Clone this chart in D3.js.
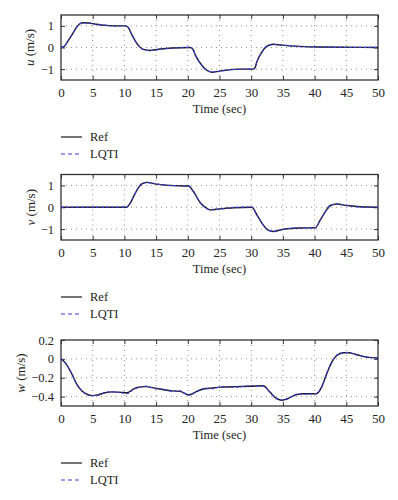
<!DOCTYPE html>
<html><head><meta charset="utf-8">
<script src="https://cdn.jsdelivr.net/npm/d3@7"></script>
<style>body{margin:0;background:#fff}svg{display:block}</style>
</head><body><svg id="c" width="398" height="500"></svg>
<script>
const xTicks = [0,5,10,15,20,25,30,35,40,45,50];
const seriesNames = ["Ref","LQTI"];

const uT   = [0,0.5,1,1.7,2.5,3,3.5,4.3,5.4,7,8.5,10.1,10.6,11.2,12.2,13,14,15.4,17.5,20.4,20.8,21.2,22.2,23,23.8,24.8,26,28,30.3,30.6,30.9,31.7,32.5,33.5,34.8,37.7,40.4,45,50];
const uRef = [0,0.05,0.25,0.57,0.95,1.1,1.14,1.13,1.08,1.02,1.0,1.0,0.93,0.57,0.1,-0.09,-0.14,-0.08,-0.02,0,-0.08,-0.35,-0.82,-1.05,-1.14,-1.1,-1.05,-1.0,-1.0,-0.93,-0.66,-0.2,0.06,0.15,0.11,0.05,0.02,0.01,0];
const uLq  = [0,0.04,0.26,0.58,0.94,1.1,1.13,1.14,1.07,1.03,0.99,1.01,0.92,0.58,0.09,-0.1,-0.13,-0.09,-0.03,0.01,-0.07,-0.36,-0.81,-1.06,-1.13,-1.11,-1.04,-1.01,-0.99,-0.94,-0.65,-0.21,0.07,0.14,0.12,0.04,0.03,0.0,0.01];

const vT   = [0,10.3,10.5,10.9,12,12.7,13.5,15.1,17.2,20.1,20.9,21.9,23,23.5,24.6,27.2,30.1,30.9,31.9,32.7,33.5,35.1,37.7,40.1,40.9,41.7,42.5,43.5,45.1,47.2,50];
const vRef = [0,0,0.03,0.18,0.8,1.06,1.14,1.06,1.0,0.97,0.72,0.23,-0.05,-0.12,-0.09,-0.02,0,-0.35,-0.82,-1.05,-1.11,-1.0,-0.95,-0.94,-0.58,-0.2,0.08,0.15,0.08,0.02,0];
const vLq  = [0,0.01,0.03,0.19,0.79,1.07,1.13,1.07,0.99,0.98,0.71,0.24,-0.06,-0.11,-0.1,-0.01,0.01,-0.36,-0.81,-1.06,-1.1,-1.01,-0.94,-0.95,-0.57,-0.21,0.09,0.14,0.09,0.01,0];

const wT   = [0,0.6,1.7,2.5,3.3,4.3,5,5.9,7,8,9.6,10.4,11.4,12.2,13.3,14.8,16.4,17.5,18.8,20.1,20.6,21.4,22.5,23.8,25.4,27.5,30,31.9,32.97,34,34.8,35.6,37.2,38.2,40.3,41.1,41.9,42.7,43.5,44.5,45.3,46.6,48.2,50];
const wRef = [0,-0.035,-0.16,-0.27,-0.34,-0.38,-0.39,-0.38,-0.36,-0.35,-0.355,-0.36,-0.32,-0.3,-0.295,-0.31,-0.33,-0.34,-0.345,-0.38,-0.375,-0.345,-0.32,-0.31,-0.3,-0.295,-0.29,-0.285,-0.355,-0.42,-0.44,-0.425,-0.38,-0.37,-0.37,-0.3,-0.16,-0.035,0.035,0.064,0.064,0.046,0.018,0.01];
const wLq  = [0,-0.04,-0.155,-0.275,-0.335,-0.385,-0.39,-0.385,-0.355,-0.35,-0.36,-0.37,-0.325,-0.305,-0.29,-0.315,-0.325,-0.345,-0.34,-0.385,-0.37,-0.35,-0.315,-0.315,-0.295,-0.3,-0.285,-0.29,-0.35,-0.425,-0.435,-0.43,-0.375,-0.375,-0.365,-0.305,-0.155,-0.04,0.04,0.06,0.068,0.042,0.022,0.005];

const uTicks = [-1,0,1];
const vTicks = [-1,0,1];
const wTicks = [-0.4,-0.2,0,0.2];

const panels = [
  {top:15, bottom:80, dom:[-1.5,1.5], ticks:uTicks, v:"u", t:uT, ref:uRef, lq:uLq, lx:30},
  {top:174.5, bottom:240, dom:[-1.5,1.5], ticks:vTicks, v:"v", t:vT, ref:vRef, lq:vLq, lx:31},
  {top:340, bottom:406, dom:[-0.5,0.2], ticks:wTicks, v:"w", t:wT, ref:wRef, lq:wLq, lx:21}
];

const FONT = "'Liberation Serif', 'Times New Roman', serif";
const svg = d3.select("#c");
const L = 61, R = 378;
const x = d3.scaleLinear().domain([0,50]).range([L,R]);
const blue = "#3c3cdc";

panels.forEach(p => {
  const y = d3.scaleLinear().domain(p.dom).range([p.bottom, p.top]);
  const g = svg.append("g").style("font-family", FONT);
  // grid
  g.selectAll(".gx").data(xTicks.slice(1,-1)).enter().append("line")
    .attr("x1",d=>x(d)).attr("x2",d=>x(d)).attr("y1",p.top).attr("y2",p.bottom)
    .attr("stroke","#888").attr("stroke-width",0.9).attr("stroke-dasharray","1,4");
  g.selectAll(".gy").data(p.ticks.filter(d=>y(d)>p.top+1 && y(d)<p.bottom-1)).enter().append("line")
    .attr("x1",L).attr("x2",R).attr("y1",d=>y(d)).attr("y2",d=>y(d))
    .attr("stroke","#888").attr("stroke-width",0.9).attr("stroke-dasharray","1,4");
  // axes
  const ax = g.append("g").attr("transform",`translate(0,${p.bottom})`)
    .call(d3.axisBottom(x).tickValues(xTicks).tickSizeInner(-4).tickSizeOuter(0).tickPadding(8));
  const axT = g.append("g").attr("transform",`translate(0,${p.top})`)
    .call(d3.axisTop(x).tickValues(xTicks).tickSizeInner(-4).tickSizeOuter(0).tickFormat(""));
  const ay = g.append("g").attr("transform",`translate(${L},0)`)
    .call(d3.axisLeft(y).tickValues(p.ticks).tickSizeInner(-4).tickSizeOuter(0).tickPadding(7).tickFormat(d3.format("")));
  const ayR = g.append("g").attr("transform",`translate(${R},0)`)
    .call(d3.axisRight(y).tickValues(p.ticks).tickSizeInner(-4).tickSizeOuter(0).tickFormat(""));
  [ax,axT,ay,ayR].forEach(a=>{
    a.attr("font-family", null).style("font-family", FONT);
    a.select(".domain").remove();
    a.selectAll("line").attr("stroke","#333").attr("stroke-width",1);
    a.selectAll("text").attr("font-size",13).style("font-family", FONT).attr("fill","#222");
  });
  ay.selectAll("text").attr("font-size",12.5).text(d => d===0 ? "0" : d3.format("")(d).replace("-","\u2212"));
  // frame
  g.append("rect").attr("x",L).attr("y",p.top).attr("width",R-L).attr("height",p.bottom-p.top)
    .attr("fill","none").attr("stroke","#333").attr("stroke-width",1.3);
  // lines
  const line = d3.line().x(d=>x(d[0])).y(d=>y(d[1])).curve(d3.curveMonotoneX);
  g.append("path").datum(p.t.map((t,i)=>[t,p.ref[i]])).attr("d",line)
    .attr("fill","none").attr("stroke","#1a1a1a").attr("stroke-width",1.4);
  g.append("path").datum(p.t.map((t,i)=>[t,p.lq[i]])).attr("d",line)
    .attr("fill","none").attr("stroke",blue).attr("stroke-width",1.2).attr("stroke-dasharray","3,2");
  // labels
  g.append("text").attr("x",(L+R)/2).attr("y",p.bottom+33).attr("text-anchor","middle")
    .attr("font-size",12.5).attr("fill","#222").style("font-family", FONT).text("Time (sec)");
  const yl = g.append("text").attr("transform",`translate(${p.lx + 4},${(p.top+p.bottom)/2}) rotate(-90)`)
    .attr("text-anchor","middle").attr("font-size",13).attr("fill","#222").style("font-family", FONT);
  yl.append("tspan").attr("font-style","italic").text(p.v);
  yl.append("tspan").text(" (m/s)");
  // legend
  const lg = g.append("g");
  seriesNames.forEach((n,i)=>{
    const yy = p.bottom + 57 + i*17;
    lg.append("line").attr("x1",61).attr("x2",82).attr("y1",yy).attr("y2",yy)
      .attr("stroke", i===0 ? "#1a1a1a" : blue).attr("stroke-width",1.2)
      .attr("stroke-dasharray", i===0 ? null : "4,3");
    lg.append("text").attr("x",90).attr("y",yy+4).attr("font-size",12.5).attr("fill","#222")
      .style("font-family", FONT).text(n);
  });
});
</script></body></html>
